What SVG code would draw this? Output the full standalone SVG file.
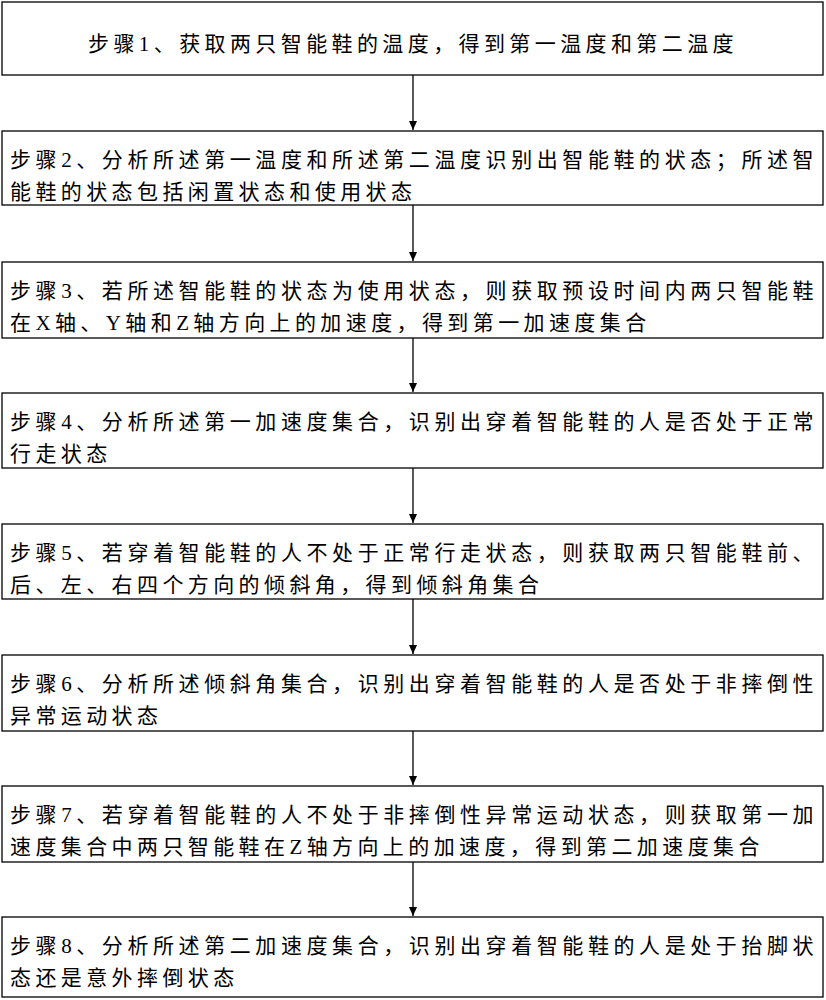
<svg xmlns="http://www.w3.org/2000/svg" width="826" height="1000" viewBox="0 0 826 1000">
<style>
.b{fill:#fff;stroke:#000;stroke-width:1.3}
text{font-family:"Liberation Serif","Noto Sans CJK SC",serif;font-size:21px;letter-spacing:4.4px;fill:#000}
.c line{stroke:#000;stroke-width:1.3}
</style>
<defs><marker id="a" markerWidth="10" markerHeight="10" refX="9" refY="5" orient="auto" markerUnits="userSpaceOnUse"><path d="M0,1 L9,5 L0,9 z" fill="#000"/></marker></defs>
<rect width="826" height="1000" fill="#fff"/>
<g class="c">
<line x1="413" y1="75" x2="413" y2="130" marker-end="url(#a)"/>
<line x1="413" y1="205" x2="413" y2="261" marker-end="url(#a)"/>
<line x1="413" y1="338" x2="413" y2="392" marker-end="url(#a)"/>
<line x1="413" y1="468" x2="413" y2="523" marker-end="url(#a)"/>
<line x1="413" y1="599" x2="413" y2="654" marker-end="url(#a)"/>
<line x1="413" y1="731" x2="413" y2="785" marker-end="url(#a)"/>
<line x1="413" y1="862" x2="413" y2="916" marker-end="url(#a)"/>
</g>
<g id="n1"><rect class="b" x="2" y="2" width="821" height="73"/><text x="413" y="51" text-anchor="middle">步骤1、获取两只智能鞋的温度，得到第一温度和第二温度</text></g>
<g id="n2"><rect class="b" x="2" y="131" width="821" height="74"/><text x="10" y="167" textLength="808" lengthAdjust="spacing">步骤2、分析所述第一温度和所述第二温度识别出智能鞋的状态；所述智</text><text x="10" y="199">能鞋的状态包括闲置状态和使用状态</text></g>
<g id="n3"><rect class="b" x="2" y="262" width="821" height="76"/><text x="10" y="298" textLength="808" lengthAdjust="spacing">步骤3、若所述智能鞋的状态为使用状态，则获取预设时间内两只智能鞋</text><text x="10" y="330">在X轴、Y轴和Z轴方向上的加速度，得到第一加速度集合</text></g>
<g id="n4"><rect class="b" x="2" y="393" width="821" height="75"/><text x="10" y="429" textLength="808" lengthAdjust="spacing">步骤4、分析所述第一加速度集合，识别出穿着智能鞋的人是否处于正常</text><text x="10" y="461">行走状态</text></g>
<g id="n5"><rect class="b" x="2" y="524" width="821" height="75"/><text x="10" y="560" textLength="808" lengthAdjust="spacing">步骤5、若穿着智能鞋的人不处于正常行走状态，则获取两只智能鞋前、</text><text x="10" y="592">后、左、右四个方向的倾斜角，得到倾斜角集合</text></g>
<g id="n6"><rect class="b" x="2" y="655" width="821" height="76"/><text x="10" y="691" textLength="808" lengthAdjust="spacing">步骤6、分析所述倾斜角集合，识别出穿着智能鞋的人是否处于非摔倒性</text><text x="10" y="723">异常运动状态</text></g>
<g id="n7"><rect class="b" x="2" y="786" width="821" height="76"/><text x="10" y="822" textLength="808" lengthAdjust="spacing">步骤7、若穿着智能鞋的人不处于非摔倒性异常运动状态，则获取第一加</text><text x="10" y="854">速度集合中两只智能鞋在Z轴方向上的加速度，得到第二加速度集合</text></g>
<g id="n8"><rect class="b" x="2" y="917" width="821" height="80"/><text x="10" y="953" textLength="808" lengthAdjust="spacing">步骤8、分析所述第二加速度集合，识别出穿着智能鞋的人是处于抬脚状</text><text x="10" y="985">态还是意外摔倒状态</text></g>
</svg>
